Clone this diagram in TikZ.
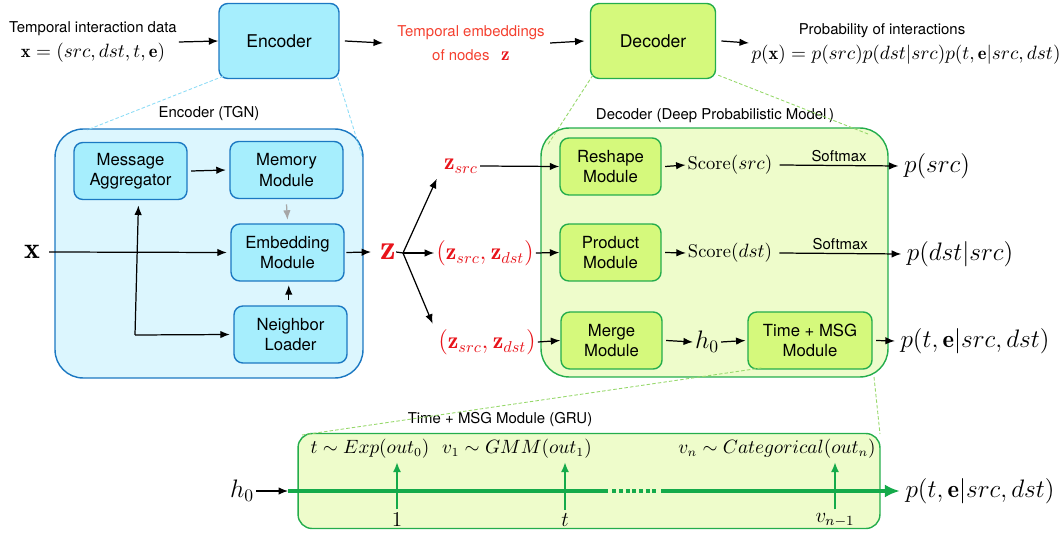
\documentclass[tikz,border=0pt]{standalone}
\usepackage{amsmath}
\usepackage{fontspec}
\setsansfont{TeX Gyre Heros}
\usetikzlibrary{arrows.meta,positioning}
\definecolor{encline}{HTML}{1B78C2}
\definecolor{encfill}{HTML}{A6EEFD}
\definecolor{encpale}{HTML}{DCF6FE}
\definecolor{decline}{HTML}{24AD4C}
\definecolor{decfill}{HTML}{D5F97C}
\definecolor{decpale}{HTML}{EEFCCB}
\definecolor{embred}{HTML}{F4402F}
\definecolor{zred}{HTML}{E8141B}
\definecolor{grugreen}{HTML}{14AA4A}
\definecolor{zoomblue}{HTML}{8CDCF6}
\definecolor{zoomgreen}{HTML}{96D86A}
\newcommand\modfont{\sffamily\fontsize{9.5}{11.5}\selectfont}
\newcommand\labfont{\sffamily\fontsize{8.5}{10.5}\selectfont}

\begin{document}
\begin{tikzpicture}[x=0.02cm,y=-0.02cm,
    arr/.style={-{Latex[length=1.9mm,width=1.5mm]},line width=0.7pt},
    encmod/.style={draw=encline,fill=encfill,line width=0.8pt,rounded corners=5pt,
      minimum width=2.26cm,minimum height=1.14cm,align=center,font=\modfont},
    decmod/.style={draw=decline,fill=decfill,line width=0.8pt,rounded corners=5pt,
      minimum width=2.02cm,minimum height=1.14cm,align=center,font=\modfont},
    lab/.style={font=\labfont,inner sep=1pt},
    mth/.style={inner sep=1pt,font=\fontsize{10.5}{12}\selectfont},
    big/.style={inner sep=1pt,font=\fontsize{14}{16}\selectfont},
    zvec/.style={inner sep=1pt,text=zred,font=\fontsize{13.5}{15}\selectfont},
    zoomln/.style={dash pattern=on 2pt off 1.2pt,line width=0.5pt},
    grn/.style={-{Latex[length=2mm,width=1.6mm]},grugreen,line width=1.2pt}]
  \useasboundingbox (0,0) rectangle (1060,533);

  % large frames
  \node[draw=encline,fill=encpale,line width=0.8pt,rounded corners=16pt,
    minimum width=6.16cm,minimum height=4.98cm] (encbig) at (209,253.5) {};
  \node[draw=decline,fill=decpale,line width=0.8pt,rounded corners=16pt,
    minimum width=6.94cm,minimum height=4.98cm] (decbig) at (714.5,252.5) {};
  \node[draw=decline,fill=decpale,line width=0.8pt,rounded corners=8pt,
    minimum width=11.64cm,minimum height=1.9cm] (grubig) at (589,481) {};
  \node[lab] (enctitle) at (209,114) {Encoder (TGN)};
  \node[lab] (dectitle) at (715,116) {Decoder (Deep Probabilistic Model\,)};
  \node[lab] (grutitle) at (500,420) {Time + MSG Module (GRU)};

  % top row
  \node[encmod,minimum width=2.4cm,minimum height=1.5cm,font=\sffamily\fontsize{10}{12}\selectfont] (enc) at (279,41) {Encoder};
  \node[decmod,minimum width=2.5cm,minimum height=1.5cm,font=\sffamily\fontsize{10}{12}\selectfont] (dec) at (653,41) {Decoder};
  \node[align=center,inner sep=1pt] (data) at (93,42)
    {{\labfont Temporal interaction data}\\[2pt]
     {\fontsize{10.5}{12}\selectfont$\mathbf{x}=(src,dst,t,\mathbf{e})$}};
  \node[align=center,inner sep=1pt,text=embred] (emb) at (471,43)
    {{\labfont Temporal embeddings}\\[2pt]
     {\labfont of nodes}\ \ {\fontsize{11}{12}\selectfont$\color{zred}\mathbf{z}$}};
  \node[lab] (ptitle) at (882,31) {Probability of interactions};
  \node[mth] (pform) at (906,55) {$p(\mathbf{x})=p(src)p(dst|src)p(t,\mathbf{e}|src,dst)$};
  \coordinate (pin) at (749,43);
  \draw[arr] (data.east) -- (enc.west);
  \draw[arr] ([xshift=3pt]enc.east) -- ([xshift=-7pt]emb.west);
  \draw[arr] ([xshift=2pt]emb.east) -- ([xshift=-3pt]dec.west);
  \draw[arr] ([xshift=3pt]dec.east) -- (pin);

  % zoom lines
  \draw[zoomln,zoomblue] (enc.south west) ++(5,-3) -- (87,130);
  \draw[zoomln,zoomblue] (enc.south east) ++(-2,-2) -- (362,156);
  \draw[zoomln,zoomgreen] (dec.south west) ++(3,-4) -- (547,146);
  \draw[zoomln,zoomgreen] (dec.south east) ++(2,-4) -- (868,134);

  % encoder internals
  \node[encmod] (msg) at (130.5,171) {Message\\Aggregator};
  \node[encmod] (mem) at (286.5,170) {Memory\\Module};
  \node[encmod] (embm) at (287.5,252.5) {Embedding\\Module};
  \node[encmod] (nbr) at (290.5,334.5) {Neighbor\\Loader};
  \node[inner sep=1pt,font=\fontsize{17}{19}\selectfont] (xin) at (32,252) {$\mathbf{x}$};
  \node[inner sep=1pt,text=zred,font=\fontsize{20}{22}\selectfont] (zall) at (388,252) {$\mathbf{z}$};
  \coordinate (split) at (135,335);
  \draw[arr] ([xshift=2pt]msg.east) -- ([xshift=-2pt]mem.west);
  \draw[arr,gray!70] ([yshift=-3pt]mem.south) -- ([yshift=2pt]embm.north);
  \draw[arr] ([xshift=4pt]xin.east) -- ([xshift=-2pt]embm.west);
  \draw[arr] (split) -- ([xshift=4.5pt,yshift=-3pt]msg.south);
  \draw[arr] (split) -- ([xshift=-2pt]nbr.west);
  \draw[arr] ([xshift=-1pt,yshift=3pt]nbr.north) -- ([xshift=-1pt,yshift=-2pt]nbr.north |- embm.south);
  \draw[arr] ([xshift=1pt]embm.east) -- ([xshift=-4pt]zall.west);

  % decoder internals
  \node[zvec] (zsrc) at (461,166) {$\mathbf{z}_{src}$};
  \node[zvec] (zpair) at (485,253) {$(\mathbf{z}_{src},\mathbf{z}_{dst})$};
  \node[zvec] (zpairb) at (487,342) {$(\mathbf{z}_{src},\mathbf{z}_{dst})$};
  \coordinate (zfork) at (403,253);
  \draw[line width=0.7pt] ([xshift=-1pt]zall.east) -- (zfork);
  \draw[arr] (zfork) -- ([xshift=-3pt,yshift=-2pt]zsrc.south west);
  \draw[arr] (zfork) -- (zpair.west);
  \draw[arr] (zfork) -- ([xshift=-2pt,yshift=2pt]zpairb.north west);

  \node[decmod] (resh) at (610.5,166.5) {Reshape\\Module};
  \node[decmod] (prod) at (610.5,252.5) {Product\\Module};
  \node[decmod] (merge) at (611.5,340.5) {Merge\\Module};
  \node[decmod,minimum width=2.48cm] (tmsg) at (810,340.5) {Time + MSG\\Module};
  \draw[arr] (zsrc.east) -- (resh.west);
  \draw[arr] (zpair.east) -- (prod.west);
  \draw[arr] (zpairb.east) -- (merge.west);

  \node[mth] (ssrc) at (730,165) {Score$(src)$};
  \node[mth] (sdst) at (730,253) {Score$(dst)$};
  \node[big] (h0) at (707,342) {$h_0$};
  \node[big] (psrc) at (937,166) {$p(src)$};
  \node[big] (pdst) at (960,254) {$p(dst|src)$};
  \node[big] (pte) at (975,341) {$p(t,\mathbf{e}|src,dst)$};
  \draw[arr] ([xshift=2pt]resh.east) -- (ssrc.west);
  \draw[arr] ([xshift=2pt]prod.east) -- (sdst.west);
  \draw[arr] ([xshift=2pt]merge.east) -- (h0.west);
  \draw[arr] (h0.east) -- ([xshift=-1pt]tmsg.west);
  \draw[arr] ([xshift=3pt]ssrc.east) -- node[lab,above=1pt] {Softmax} ([xshift=-2pt]psrc.west);
  \draw[arr] ([xshift=3pt]sdst.east) -- node[lab,above=1pt] {Softmax} ([xshift=-2pt]pdst.west);
  \draw[arr] ([xshift=2pt]tmsg.east) -- ([xshift=-2pt]pte.west);

  % zoom lines to GRU
  \draw[zoomln,zoomgreen] ([xshift=8pt,yshift=1pt]tmsg.south west) -- (302,435);
  \draw[zoomln,zoomgreen] (874,377) -- (880,434);

  % GRU unrolled
  \node[big] (h0g) at (242,491) {$h_0$};
  \node[big] (pteg) at (980,491) {$p(t,\mathbf{e}|src,dst)$};
  \coordinate (g0) at (288,491);
  \coordinate (g1) at (608,491);
  \coordinate (g2) at (661,491);
  \draw[arr] (h0g.east) -- (g0);
  \draw[grugreen,line width=2.4pt] (g0) -- (g1);
  \draw[grugreen,line width=2.4pt,dash pattern=on 2.2pt off 1.6pt] ([xshift=2.5pt]g1) -- ([xshift=-2.5pt]g2);
  \draw[-{Latex[length=3mm,width=2.6mm]},grugreen,line width=2.4pt] (g2) -- ([xshift=-2pt]pteg.west);
  \foreach \xx/\bot/\nm in {397/1/a, 565/t/b, 835/v_{n-1}/c} {
    \node[mth,font=\fontsize{12}{14}\selectfont] (in\nm) at (\xx,520) {$\bot$};
    \coordinate (up\nm) at (\xx,462);
    \draw[grn] ([yshift=1pt]in\nm.north) -- (up\nm);
  }
  \node[mth] (outa) at (370,449) {$t\sim Exp(out_0)$};
  \node[mth] (outb) at (517,449) {$v_1\sim GMM(out_1)$};
  \node[mth] (outc) at (777,449) {$v_n\sim Categorical(out_n)$};
\end{tikzpicture}
\end{document}
